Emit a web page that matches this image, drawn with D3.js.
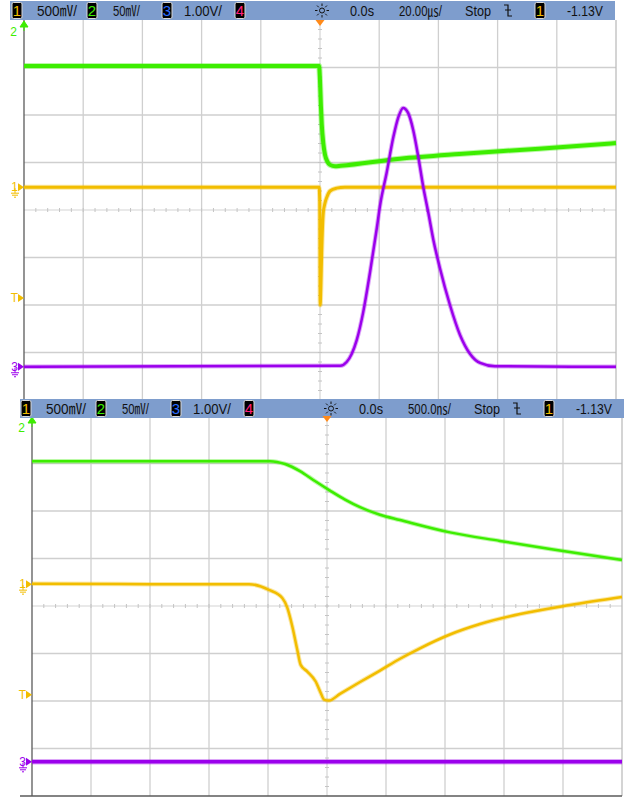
<!DOCTYPE html>
<html>
<head>
<meta charset="utf-8">
<script src="https://cdn.jsdelivr.net/npm/d3@7"></script>
<style>
  body { margin: 0; background: #fff; }
  svg { display: block; }
</style>
</head>
<body>
<svg width="627" height="798"></svg>
<script>
// ---- top capture: 20 us/div, values in screen divisions from centre ----
const topGreenT = [-100, -0.3, 0, 0.3, 0.6, 1.1, 1.7, 2.5, 3.4, 5.1, 7, 27, 47, 74, 100];
const topGreenV = [3.03, 3.03, 2.72, 2.2, 1.8, 1.41, 1.16, 1.02, 0.95, 0.92, 0.93, 1.08, 1.18, 1.29, 1.41];

const topYellowT = [-100, -0.3, -0.1, 0.07, 0.27, 0.57, 1.1, 1.7, 2.3, 3.4, 5.6, 8.4, 100];
const topYellowV = [0.48, 0.48, 0.21, -2.0, -1.68, -0.9, -0.06, 0.15, 0.27, 0.4, 0.46, 0.48, 0.48];

const topPurpleT = [-100, 6.8, 9.0, 10.7, 12.4, 14.6, 16.9, 19.2, 20.3, 22.5, 24.8, 26.5, 28.1,
  29.8, 31.5, 33.2, 34.9, 36.6, 38.3, 40.5, 43.9, 47.3, 50.7, 54.1, 59.1, 100];
const topPurpleV = [-3.3, -3.28, -3.2, -3.03, -2.74, -2.15, -1.31, -0.38, 0.1, 0.78, 1.54, 1.96, 2.15,
  2.04, 1.68, 1.12, 0.48, -0.06, -0.63, -1.22, -2.0, -2.63, -3.03, -3.22, -3.29, -3.3];

// ---- bottom capture: 500 ns/div ----
const botGreenT = [-2500, -483, -356, -229, -102, 25, 153, 280, 449, 619, 1042, 1466, 1890, 2500];
const botGreenV = [3.05, 3.05, 2.99, 2.84, 2.63, 2.43, 2.24, 2.08, 1.92, 1.81, 1.55, 1.37, 1.2, 0.97];

const botYellowT = [-2500, -1508, -661, -492, -379, -336, -294, -252, -223, -167, -96, -53, -25,
  17, 110, 280, 449, 619, 788, 1042, 1297, 1636, 2059, 2500];
const botYellowV = [0.47, 0.46, 0.46, 0.34, 0.17, -0.04, -0.43, -0.92, -1.24, -1.38, -1.59, -1.83, -1.97,
  -1.99, -1.85, -1.6, -1.36, -1.11, -0.89, -0.6, -0.38, -0.17, 0.02, 0.19];

const botPurpleT = [-2500, 2500];
const botPurpleV = [-3.28, -3.28];

// header labels
const chScales = ["500㎷/", "50㎷/", "1.00V/"];
const topTimebase = "20.00㎲/";
const botTimebase = "500.0㎱/";
const trigLevel = "-1.13V";

const colors = { ch1: "#f2bd00", ch2: "#3ded00", ch3: "#9b00ec", ch4: "#ff1f7a" };

const svg = d3.select("svg");

function zip(ts, vs) {
  return ts.map((t, i) => ({ t: t, v: vs[i] }));
}

function drawPanel(cfg) {
  const g = svg.append("g");
  const x = d3.scaleLinear().domain(cfg.xDomain).range([cfg.left, cfg.right]);
  const y = d3.scaleLinear().domain([-4, 4]).range([cfg.bottom, cfg.top]);
  const step = (cfg.xDomain[1] - cfg.xDomain[0]) / 10;

  // grid
  const grid = g.append("g");
  grid.selectAll("line.v")
    .data(d3.range(1, 10).map((i) => cfg.xDomain[0] + i * step).filter((d, i) => i !== 4))
    .enter().append("line")
    .attr("x1", (d) => x(d)).attr("x2", (d) => x(d))
    .attr("y1", cfg.top).attr("y2", cfg.bottom)
    .attr("stroke", "#cfcfcf").attr("stroke-width", 1.3);
  grid.selectAll("line.h")
    .data([-3, -2, -1, 1, 2, 3])
    .enter().append("line")
    .attr("x1", cfg.left).attr("x2", cfg.right)
    .attr("y1", (d) => y(d)).attr("y2", (d) => y(d))
    .attr("stroke", "#cfcfcf").attr("stroke-width", 1.3);

  // centre axes with minor ticks
  grid.append("line")
    .attr("x1", cfg.left).attr("x2", cfg.right)
    .attr("y1", y(0)).attr("y2", y(0))
    .attr("stroke", "#d4d4d4").attr("stroke-width", 1.2);
  grid.append("line")
    .attr("x1", x(0)).attr("x2", x(0))
    .attr("y1", cfg.top).attr("y2", cfg.bottom)
    .attr("stroke", "#d4d4d4").attr("stroke-width", 1.2);
  grid.selectAll("line.tx")
    .data(d3.range(1, 50).map((i) => cfg.xDomain[0] + i * step / 5))
    .enter().append("line")
    .attr("x1", (d) => x(d)).attr("x2", (d) => x(d))
    .attr("y1", y(0) - 2).attr("y2", y(0) + 2)
    .attr("stroke", "#c4c4c4").attr("stroke-width", 1);
  grid.selectAll("line.ty")
    .data(d3.range(1, 40).map((i) => -4 + i * 0.2))
    .enter().append("line")
    .attr("x1", x(0) - 2).attr("x2", x(0) + 2)
    .attr("y1", (d) => y(d)).attr("y2", (d) => y(d))
    .attr("stroke", "#c4c4c4").attr("stroke-width", 1);

  // frame
  g.append("line")
    .attr("x1", cfg.right).attr("x2", cfg.right)
    .attr("y1", cfg.top).attr("y2", cfg.bottom)
    .attr("stroke", "#bdbdbd").attr("stroke-width", 1.3);
  g.append("line")
    .attr("x1", cfg.left).attr("x2", cfg.left)
    .attr("y1", cfg.top).attr("y2", cfg.bottom)
    .attr("stroke", "#5a5a5a").attr("stroke-width", 1.3);
  if (cfg.bottomEdge) {
    g.append("line")
      .attr("x1", cfg.left - 12).attr("x2", cfg.right)
      .attr("y1", cfg.bottom).attr("y2", cfg.bottom)
      .attr("stroke", "#5a5a5a").attr("stroke-width", 1.3);
  }

  // traces: faint wide halo for the noise band, then the solid core
  const line = d3.line()
    .x((d) => x(d.t))
    .y((d) => y(d.v))
    .curve(d3.curveMonotoneX);
  cfg.traces.forEach((tr) => {
    const pts = zip(tr.t, tr.v);
    g.append("path")
      .datum(pts)
      .attr("fill", "none")
      .attr("stroke", tr.color)
      .attr("stroke-opacity", 0.35)
      .attr("stroke-width", tr.width + 2)
      .attr("stroke-linejoin", "round")
      .attr("d", line);
    g.append("path")
      .datum(pts)
      .attr("fill", "none")
      .attr("stroke", tr.color)
      .attr("stroke-width", tr.width)
      .attr("stroke-linejoin", "round")
      .attr("d", line);
  });

  // channel markers on the left edge
  const mk = g.append("g").attr("font-family", "Liberation Sans, Arial, sans-serif")
    .attr("font-size", 12);
  // ch2 off-screen (arrow up)
  mk.append("text").attr("x", cfg.left - 7).attr("y", cfg.top + 16)
    .attr("text-anchor", "end").attr("fill", colors.ch2).text("2");
  mk.append("path")
    .attr("d", `M${cfg.left - 4},${cfg.top + 7}L${cfg.left},${cfg.top + 1}L${cfg.left + 4},${cfg.top + 7}Z M${cfg.left},${cfg.top + 6}V${cfg.top + 11}`)
    .attr("fill", colors.ch2).attr("stroke", colors.ch2).attr("stroke-width", 1);
  cfg.markers.forEach((m) => {
    const yy = y(m.v);
    mk.append("text").attr("x", cfg.left - 6).attr("y", yy + 4)
      .attr("text-anchor", "end").attr("fill", m.color).text(m.label);
    mk.append("path")
      .attr("d", `M${cfg.left - 6},${yy - 4}L${cfg.left},${yy}L${cfg.left - 6},${yy + 4}Z`)
      .attr("fill", m.color);
    if (m.ground) {
      mk.append("path")
        .attr("d", `M${cfg.left - 9},${yy + 1}V${yy + 6} M${cfg.left - 13},${yy + 6}H${cfg.left - 5} M${cfg.left - 12},${yy + 8}H${cfg.left - 6} M${cfg.left - 10},${yy + 10}H${cfg.left - 8}`)
        .attr("stroke", m.color).attr("stroke-width", 1).attr("fill", "none");
    }
  });

  // header bar
  const h = g.append("g");
  const hy = cfg.barY;
  h.append("rect")
    .attr("x", cfg.barX0).attr("y", hy)
    .attr("width", cfg.barX1 - cfg.barX0).attr("height", 19)
    .attr("fill", "#7e9dcd");
  const bx = cfg.itemX;
  const box = (dx, label, color) => {
    h.append("rect")
      .attr("x", bx + dx).attr("y", hy + 1.5)
      .attr("width", 10).attr("height", 16).attr("rx", 1.5)
      .attr("fill", "#000").attr("stroke", "#d8d8d8").attr("stroke-width", 1);
    h.append("text")
      .attr("x", bx + dx + 5).attr("y", hy + 15)
      .attr("text-anchor", "middle")
      .attr("font-family", "Liberation Sans Narrow, Liberation Sans, Arial, sans-serif")
      .attr("font-size", 15)
      .attr("fill", color).text(label);
  };
  const txt = (dx, s, w) => {
    h.append("text")
      .attr("x", bx + dx).attr("y", hy + 15)
      .attr("font-family", "Liberation Sans, Noto Sans CJK JP, Arial, sans-serif")
      .attr("font-size", 15)
      .attr("textLength", w).attr("lengthAdjust", "spacingAndGlyphs")
      .attr("fill", "#111").text(s);
  };
  box(0, "1", colors.ch1);
  txt(25, chScales[0], 40);
  box(75, "2", colors.ch2);
  txt(101, chScales[1], 27);
  box(150, "3", "#2a6cff");
  txt(172, chScales[2], 38);
  box(223, "4", colors.ch4);

  // acquisition sun icon
  const sx = bx + 310, sy = hy + 9.5;
  h.append("circle").attr("cx", sx).attr("cy", sy).attr("r", 2.5)
    .attr("fill", "none").attr("stroke", "#111").attr("stroke-width", 1);
  d3.range(8).forEach((i) => {
    const a = (i * Math.PI) / 4;
    h.append("line")
      .attr("x1", sx + Math.cos(a) * 4.5).attr("y1", sy + Math.sin(a) * 4.5)
      .attr("x2", sx + Math.cos(a) * 7).attr("y2", sy + Math.sin(a) * 7)
      .attr("stroke", "#111").attr("stroke-width", 1);
  });
  txt(338, "0.0s", 24);
  txt(387, cfg.timebase, 43);
  txt(453, "Stop", 26);
  // falling-edge trigger glyph
  const ex = bx + 496;
  h.append("path")
    .attr("d", `M${ex - 4},${hy + 4}H${ex}V${hy + 15}H${ex + 4} M${ex - 3},${hy + 9}H${ex + 3}`)
    .attr("stroke", "#111").attr("stroke-width", 1.2).attr("fill", "none");
  box(523, "1", colors.ch1);
  txt(555, trigLevel, 36);

  // trigger position marker
  g.append("path")
    .attr("d", `M${x(0) - 4.5},${cfg.top}L${x(0) + 4.5},${cfg.top}L${x(0)},${cfg.top + 6}Z`)
    .attr("fill", "#ff8a1a");
}

drawPanel({
  left: 24, right: 616, top: 20, bottom: 400,
  xDomain: [-100, 100],
  barX0: 10, barX1: 615, barY: 1, itemX: 12,
  timebase: topTimebase,
  bottomEdge: false,
  traces: [
    { t: topYellowT, v: topYellowV, color: colors.ch1, width: 3 },
    { t: topGreenT, v: topGreenV, color: colors.ch2, width: 4 },
    { t: topPurpleT, v: topPurpleV, color: colors.ch3, width: 2.5 }
  ],
  markers: [
    { label: "1", v: 0.48, color: colors.ch1, ground: true },
    { label: "T", v: -1.85, color: colors.ch1, ground: false },
    { label: "3", v: -3.3, color: colors.ch3, ground: true }
  ]
});

drawPanel({
  left: 32, right: 622, top: 416, bottom: 796,
  xDomain: [-2500, 2500],
  barX0: 20, barX1: 624, barY: 399, itemX: 21,
  timebase: botTimebase,
  bottomEdge: true,
  traces: [
    { t: botYellowT, v: botYellowV, color: colors.ch1, width: 2.5 },
    { t: botGreenT, v: botGreenV, color: colors.ch2, width: 2.5 },
    { t: botPurpleT, v: botPurpleV, color: colors.ch3, width: 3.5 }
  ],
  markers: [
    { label: "1", v: 0.46, color: colors.ch1, ground: true },
    { label: "T", v: -1.87, color: colors.ch1, ground: false },
    { label: "3", v: -3.28, color: colors.ch3, ground: true }
  ]
});
</script>
</body>
</html>
